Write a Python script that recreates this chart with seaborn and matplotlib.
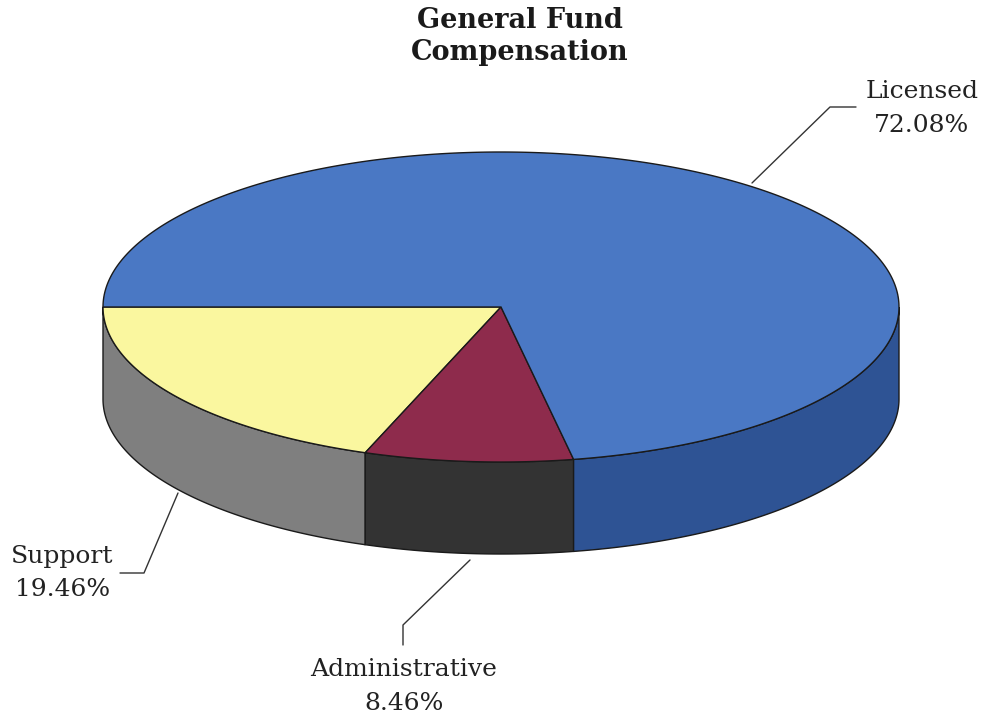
import numpy as np
import matplotlib
matplotlib.use("Agg")
import matplotlib.pyplot as plt
import seaborn as sns
from matplotlib.patches import Polygon

sns.set_theme(style="white")
plt.rcParams["font.family"] = ["DejaVu Serif"]

# Slice data, in drawing order (counterclockwise from the left edge)
categories = ["Support", "Administrative", "Licensed"]
shares = [19.46, 8.46, 72.08]
top_colors = ["#FAF79F", "#8E2B4C", "#4A78C4"]
side_colors = ["#7F7F7F", "#333333", "#2E5394"]

title = "General Fund\nCompensation"

# Pie geometry (in figure-pixel data units)
cx, cy = 501, 307
ra, rb = 398, 155
depth = 92
start = 180.0

fig = plt.figure(figsize=(9.84, 7.19), dpi=100)
ax = fig.add_axes([0, 0, 1, 1])
ax.set_xlim(0, 984)
ax.set_ylim(719, 0)
ax.axis("off")


def rim(t0, t1, n=200):
    t = np.radians(np.linspace(t0, t1, n))
    return cx + ra * np.cos(t), cy - rb * np.sin(t)


fracs = np.array(shares) / np.sum(shares)
bounds = start + 360 * np.concatenate([[0], np.cumsum(fracs)])

# Side walls: only the front half (180..360 deg) is visible
for i in range(len(categories)):
    t0, t1 = max(bounds[i], 180), min(bounds[i + 1], 360)
    if t1 <= t0:
        continue
    x, y = rim(t0, t1)
    xs = np.concatenate([x, x[::-1]])
    ys = np.concatenate([y, (y + depth)[::-1]])
    ax.add_patch(Polygon(np.column_stack([xs, ys]), closed=True,
                         facecolor=side_colors[i], edgecolor="#1a1a1a",
                         linewidth=1.0, zorder=2))

# Top faces
for i in range(len(categories)):
    x, y = rim(bounds[i], bounds[i + 1], 400)
    xs = np.concatenate([[cx], x])
    ys = np.concatenate([[cy], y])
    ax.add_patch(Polygon(np.column_stack([xs, ys]), closed=True,
                         facecolor=top_colors[i], edgecolor="#1a1a1a",
                         linewidth=1.0, zorder=3))

# Leader lines and labels
lab_kw = dict(fontsize=18, color="#222222", ha="center", va="center")
line_kw = dict(color="#333333", linewidth=1.0, zorder=4)

# Licensed
ax.plot([752, 830, 856], [183, 107, 107], **line_kw)
ax.text(922, 92, "Licensed", **lab_kw)
ax.text(922, 125, f"{shares[2]:.2f}%", **lab_kw)

# Support
ax.plot([178, 144, 120], [493, 573, 573], **line_kw)
ax.text(62, 557, "Support", **lab_kw)
ax.text(63, 590, f"{shares[0]:.2f}%", **lab_kw)

# Administrative
ax.plot([470, 403, 403], [560, 625, 645], **line_kw)
ax.text(404, 670, "Administrative", **lab_kw)
ax.text(404, 703, f"{shares[1]:.2f}%", **lab_kw)

ax.text(520, 20, "General Fund", fontsize=19.5, fontweight="bold",
        color="#1a1a1a", ha="center", va="center")
ax.text(520, 52, "Compensation", fontsize=19.5, fontweight="bold",
        color="#1a1a1a", ha="center", va="center")

fig.savefig("out.png", dpi=100, facecolor="white")
